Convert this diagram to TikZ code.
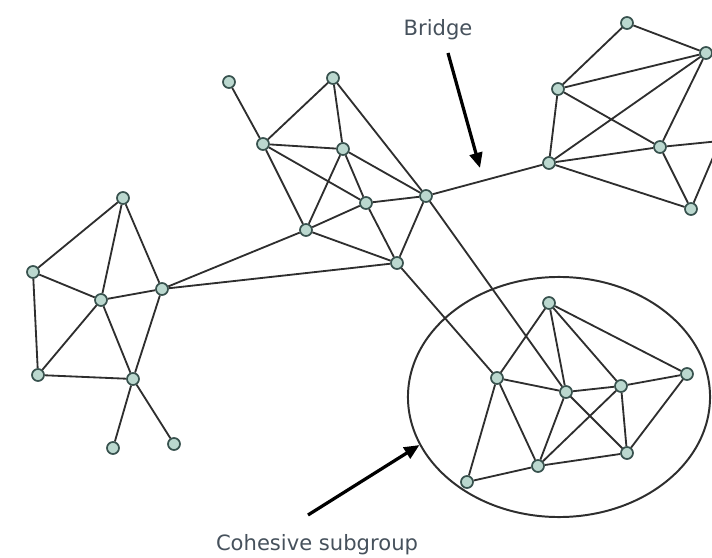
\documentclass[tikz,border=0pt]{standalone}
\usepackage{fontspec}
\setmainfont{DejaVu Sans}
\usepackage{tikz}
\usetikzlibrary{arrows.meta,shapes.geometric}
\definecolor{vertexfill}{HTML}{BBD8CF}
\definecolor{vertexdraw}{HTML}{38524E}
\definecolor{linkgray}{HTML}{2E2E2E}
\definecolor{textgray}{HTML}{46515C}
\tikzset{
  vertex/.style={circle, draw=vertexdraw, fill=vertexfill, line width=1.2pt, minimum size=0.3cm, inner sep=0pt},
  link/.style={draw=linkgray, line width=1.3pt},
  group/.style={draw=linkgray, ellipse, line width=1.4pt, minimum width=7.55cm, minimum height=6cm, inner sep=0pt},
  callout/.style={text=textgray, font=\fontsize{15}{18}\selectfont, inner sep=1pt},
  pointer/.style={-{Triangle[length=3.8mm,width=3.2mm]}, line width=2.3pt, black}
}

\begin{document}
\begin{tikzpicture}[x=0.025cm,y=-0.025cm]
  \useasboundingbox (0,0) rectangle (712,558);
  \clip (0,0) rectangle (712,558);

  % left cluster
  \node[vertex] (left1) at (123,198) {};
  \node[vertex] (left2) at (33,272) {};
  \node[vertex] (left3) at (101,300) {};
  \node[vertex] (left4) at (162,289) {};
  \node[vertex] (left5) at (38,375) {};
  \node[vertex] (left6) at (133,379) {};
  \node[vertex] (left7) at (113,448) {};
  \node[vertex] (left8) at (174,444) {};

  % middle cluster
  \node[vertex] (mid1) at (229,82) {};
  \node[vertex] (mid2) at (333,78) {};
  \node[vertex] (mid3) at (263,144) {};
  \node[vertex] (mid4) at (343,149) {};
  \node[vertex] (mid5) at (366,203) {};
  \node[vertex] (mid6) at (426,196) {};
  \node[vertex] (mid7) at (306,230) {};
  \node[vertex] (mid8) at (397,263) {};

  % right cluster
  \node[vertex] (right1) at (627,23) {};
  \node[vertex] (right2) at (706,53) {};
  \node[vertex] (right3) at (558,89) {};
  \node[vertex] (right4) at (660,147) {};
  \node[vertex] (right5) at (549,163) {};
  \node[vertex] (right6) at (691,209) {};
  \node[vertex] (right7) at (720,141) {};

  % cohesive subgroup
  \node[vertex] (coh1) at (497,378) {};
  \node[vertex] (coh2) at (549,303) {};
  \node[vertex] (coh3) at (566,392) {};
  \node[vertex] (coh4) at (621,386) {};
  \node[vertex] (coh5) at (687,374) {};
  \node[vertex] (coh6) at (627,453) {};
  \node[vertex] (coh7) at (538,466) {};
  \node[vertex] (coh8) at (467,482) {};
  \node[group] (subgroup) at (559,397) {};

  \draw[link] (left1) -- (left2) (left1) -- (left3) (left1) -- (left4);
  \draw[link] (left2) -- (left3) (left2) -- (left5) (left3) -- (left4);
  \draw[link] (left3) -- (left5) (left3) -- (left6) (left4) -- (left6);
  \draw[link] (left5) -- (left6) (left6) -- (left7) (left6) -- (left8);
  \draw[link] (left4) -- (mid7) (left4) -- (mid8);

  \draw[link] (mid1) -- (mid3) (mid2) -- (mid3) (mid2) -- (mid4) (mid2) -- (mid6);
  \draw[link] (mid3) -- (mid4) (mid3) -- (mid5) (mid3) -- (mid7);
  \draw[link] (mid4) -- (mid5) (mid4) -- (mid6) (mid4) -- (mid7);
  \draw[link] (mid5) -- (mid6) (mid5) -- (mid7) (mid5) -- (mid8);
  \draw[link] (mid6) -- (mid8) (mid7) -- (mid8);
  \draw[link] (mid6) -- (right5);
  \draw[link] (mid6) -- (coh3) (mid8) -- (coh1);

  \draw[link] (right1) -- (right2) (right1) -- (right3) (right3) -- (right2);
  \draw[link] (right3) -- (right4) (right3) -- (right5) (right5) -- (right2);
  \draw[link] (right4) -- (right2) (right5) -- (right4) (right5) -- (right6);
  \draw[link] (right4) -- (right6) (right4) -- (right7) (right6) -- (right7);

  \draw[link] (coh1) -- (coh2) (coh1) -- (coh3) (coh1) -- (coh7) (coh1) -- (coh8);
  \draw[link] (coh2) -- (coh3) (coh2) -- (coh4) (coh2) -- (coh5);
  \draw[link] (coh3) -- (coh4) (coh3) -- (coh6) (coh3) -- (coh7);
  \draw[link] (coh4) -- (coh5) (coh4) -- (coh6) (coh4) -- (coh7);
  \draw[link] (coh5) -- (coh6) (coh6) -- (coh7) (coh7) -- (coh8);

  % callouts
  \node[callout] (bridge) at (438,30) {Bridge};
  \coordinate (bridgetail) at (448,53);
  \coordinate (bridgetip) at (480,168);
  \draw[pointer] (bridgetail) -- (bridgetip);

  \node[callout] (cohesive) at (317,545) {Cohesive subgroup};
  \coordinate (cohesivetail) at (308,515);
  \draw[pointer] (cohesivetail) -- (subgroup.199);
\end{tikzpicture}
\end{document}
